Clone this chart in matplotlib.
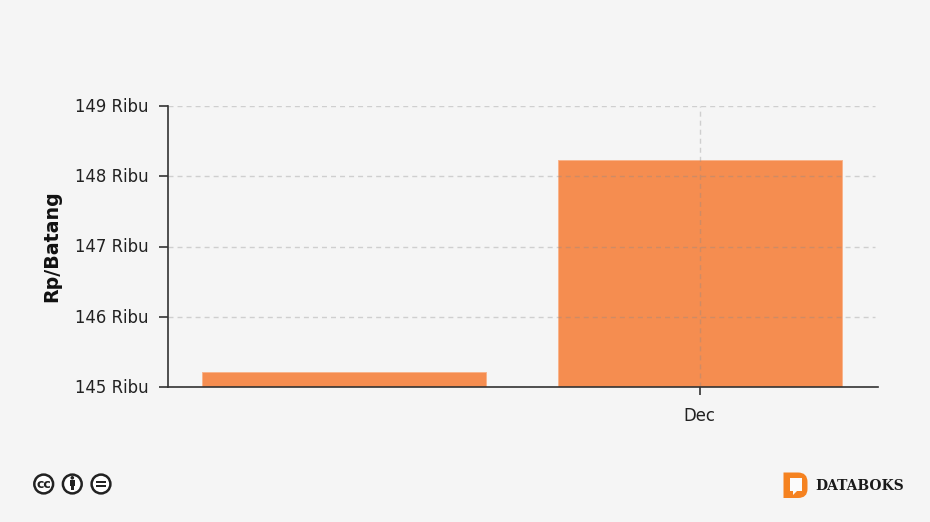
import matplotlib
matplotlib.use('Agg')
import matplotlib.pyplot as plt
from matplotlib.patches import Circle, PathPatch, Rectangle
from matplotlib.path import Path
from matplotlib.transforms import ScaledTranslation

categories = ['', 'Dec']
values = [145.21, 148.23]
y_ticks = [145, 146, 147, 148, 149]
y_labels = ['145 Ribu', '146 Ribu', '147 Ribu', '148 Ribu', '149 Ribu']

W, H = 930, 522
BG = '#f5f5f5'
ORANGE = '#f58d50'
DARK = '#333333'

plt.rcParams['font.family'] = ['DejaVu Sans']
plt.rcParams['lines.scale_dashes'] = False

fig = plt.figure(figsize=(W / 100, H / 100), dpi=100, facecolor=BG)

# plot area in pixels: x 168-878, y 106-387
ax = fig.add_axes([168 / W, 1 - 387 / H, 709.5 / W, 281 / H], facecolor=BG)

x = list(range(len(categories)))
ax.bar(x, values, width=0.798, color=ORANGE, edgecolor='#f9b48c', linewidth=0.7, zorder=2)

ax.set_xlim(-0.494, 1.5)
ax.set_ylim(145, 149)
ax.set_yticks(y_ticks)
ax.set_yticklabels(y_labels)
ax.set_xticks([1])
ax.set_xticklabels(['Dec'])

ax.tick_params(axis='y', length=6.5, width=1.2, color=DARK, labelsize=11.9, labelcolor='#222222', pad=7.3)
ax.tick_params(axis='x', length=6, width=1.2, color=DARK, labelsize=11.9, labelcolor='#222222', pad=8.3)

# y labels sit one pixel higher in the original
for lbl in ax.get_yticklabels():
    lbl.set_transform(lbl.get_transform() + ScaledTranslation(0, 1 / 100, fig.dpi_scale_trans))

# grid stops a little short of the axis end
dash = (0, (3.6, 2.9))
ax.hlines(y_ticks, -0.494, 1.492, color='#8a8a8a', alpha=0.35, linewidth=1.0, linestyle=dash, zorder=3)
ax.vlines([1], 145, 149, color='#8a8a8a', alpha=0.35, linewidth=1.0, linestyle=dash, zorder=3)

for s in ['top', 'right']:
    ax.spines[s].set_visible(False)
for s in ['left', 'bottom']:
    ax.spines[s].set_color(DARK)
    ax.spines[s].set_linewidth(1.2)
    ax.spines[s].set_zorder(4)

fig.text(52 / W, 1 - 246 / H, 'Rp/Batang', rotation=90, ha='center', va='center',
         fontsize=13.7, fontweight='bold', color='#111111')

# overlay in pixel coordinates for the licence icons and logo
ov = fig.add_axes([0, 0, 1, 1], facecolor='none')
ov.set_xlim(0, W)
ov.set_ylim(H, 0)
ov.axis('off')

ICON = '#222222'
for cx in [43.7, 72.3, 101]:
    ov.add_patch(Circle((cx, 484), 9.4, fc='white', ec=ICON, lw=1.8))

ov.text(43.7, 484, 'cc', ha='center', va='center', fontsize=9, fontweight='bold', color=ICON)

# person icon
ov.add_patch(Circle((72.3, 477.8), 1.8, fc=ICON, ec='none'))
ov.add_patch(Rectangle((69.6, 480), 5.4, 5.6, fc=ICON, ec='none'))
ov.add_patch(Rectangle((70.6, 485), 3.4, 5.4, fc=ICON, ec='none'))

# equals icon
ov.add_patch(Rectangle((96.3, 480.8), 9.6, 2.5, fc=ICON, ec='none'))
ov.add_patch(Rectangle((96.3, 484.8), 9.6, 2.5, fc=ICON, ec='none'))

# databoks logo
LOGO = '#f58220'
d_verts = [(783.5, 472.5), (798, 472.5), (807.5, 472.5), (807.5, 482), (807.5, 489),
           (807.5, 498), (798, 498), (783.5, 498), (783.5, 472.5)]
d_codes = [Path.MOVETO, Path.LINETO, Path.CURVE3, Path.CURVE3, Path.LINETO,
           Path.CURVE3, Path.CURVE3, Path.LINETO, Path.CLOSEPOLY]
ov.add_patch(PathPatch(Path(d_verts, d_codes), fc=LOGO, ec='none'))
bubble = [(790, 478), (802, 478), (802, 491), (797, 491), (793, 495), (793, 491), (790, 491), (790, 478)]
ov.add_patch(PathPatch(Path(bubble, [Path.MOVETO] + [Path.LINETO] * 6 + [Path.CLOSEPOLY]), fc='#fbfbfb', ec='none'))

ov.text(815, 486, 'DATABOKS', ha='left', va='center', fontsize=10, fontweight='bold',
        family='DejaVu Serif', color='#1a1a1a')

fig.savefig('out.png', dpi=100, facecolor=BG)
